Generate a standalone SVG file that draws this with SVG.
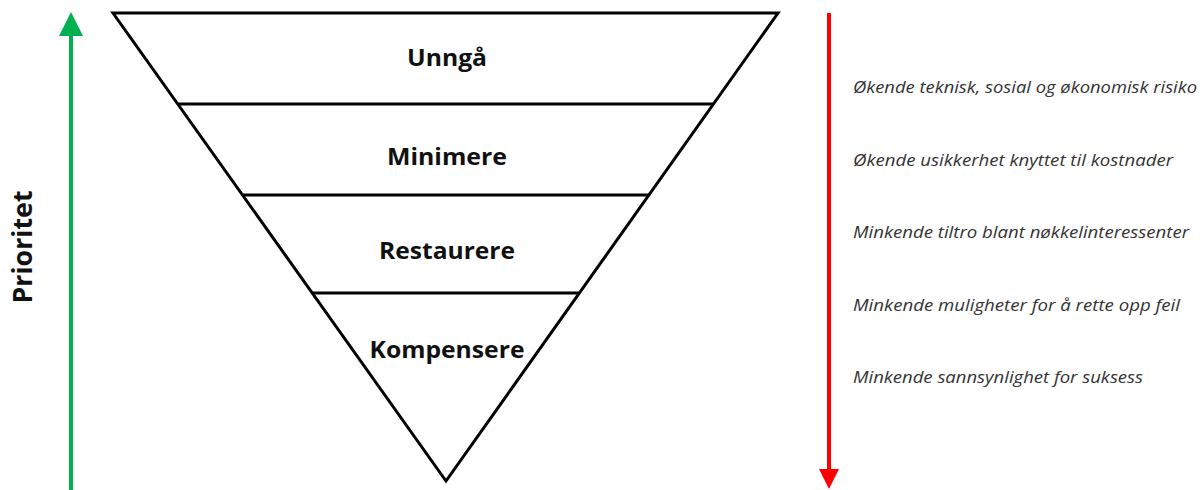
<svg xmlns="http://www.w3.org/2000/svg" width="1204" height="490" viewBox="0 0 1204 490">
<style>
.lvl{font-family:"Open Sans","Liberation Sans",sans-serif;font-weight:bold;font-size:24px;fill:#111;text-anchor:middle}
.note{font-family:"Open Sans","Liberation Sans",sans-serif;font-style:italic;font-size:16px;fill:#333}
.edge{stroke:#000;stroke-width:3;fill:none}
</style>
<defs>
<marker id="gh" markerWidth="6" markerHeight="6" refX="3" refY="3" orient="auto" markerUnits="strokeWidth"><path d="M0,0 L6,3 L0,6 Z" fill="#00B050"/></marker>
<marker id="rh" markerWidth="6" markerHeight="5" refX="3" refY="2.5" orient="auto" markerUnits="strokeWidth"><path d="M0,0 L5,2.5 L0,5 Z" fill="#FF0000"/></marker>
</defs>
<rect width="1204" height="490" fill="#fff"/>
<g id="connectors">
<line x1="71" y1="490" x2="71" y2="24" stroke="#00B050" stroke-width="4" marker-end="url(#gh)"/>
<line x1="829" y1="13" x2="829" y2="481" stroke="#FF0000" stroke-width="4" marker-end="url(#rh)"/>
</g>
<g id="funnel">
<polygon class="edge" points="113,13 778,13 446,481"/>
<line class="edge" x1="178" y1="104" x2="713" y2="104"/>
<line class="edge" x1="243" y1="195" x2="649" y2="195"/>
<line class="edge" x1="312" y1="293" x2="580" y2="293"/>
</g>
<g id="unnga"><text class="lvl" x="447" y="66" textLength="80" lengthAdjust="spacingAndGlyphs">Unngå</text></g>
<g id="minimere"><text class="lvl" x="447" y="165" textLength="120" lengthAdjust="spacingAndGlyphs">Minimere</text></g>
<g id="restaurere"><text class="lvl" x="447" y="259" textLength="136" lengthAdjust="spacingAndGlyphs">Restaurere</text></g>
<g id="kompensere"><text class="lvl" x="447" y="358" textLength="155" lengthAdjust="spacingAndGlyphs">Kompensere</text></g>
<g id="prioritet"><text font-family="Open Sans, Liberation Sans, sans-serif" font-weight="bold" font-size="26" fill="#111" text-anchor="middle" transform="translate(32,247) rotate(-90)" textLength="113" lengthAdjust="spacingAndGlyphs">Prioritet</text></g>
<g id="notes">
<text class="note" x="853" y="93" textLength="344" lengthAdjust="spacingAndGlyphs">Økende teknisk, sosial og økonomisk risiko</text>
<text class="note" x="853" y="166" textLength="320" lengthAdjust="spacingAndGlyphs">Økende usikkerhet knyttet til kostnader</text>
<text class="note" x="853" y="238" textLength="336" lengthAdjust="spacingAndGlyphs">Minkende tiltro blant nøkkelinteressenter</text>
<text class="note" x="853" y="311" textLength="327" lengthAdjust="spacingAndGlyphs">Minkende muligheter for å rette opp feil</text>
<text class="note" x="853" y="383" textLength="290" lengthAdjust="spacingAndGlyphs">Minkende sannsynlighet for suksess</text>
</g>
</svg>
